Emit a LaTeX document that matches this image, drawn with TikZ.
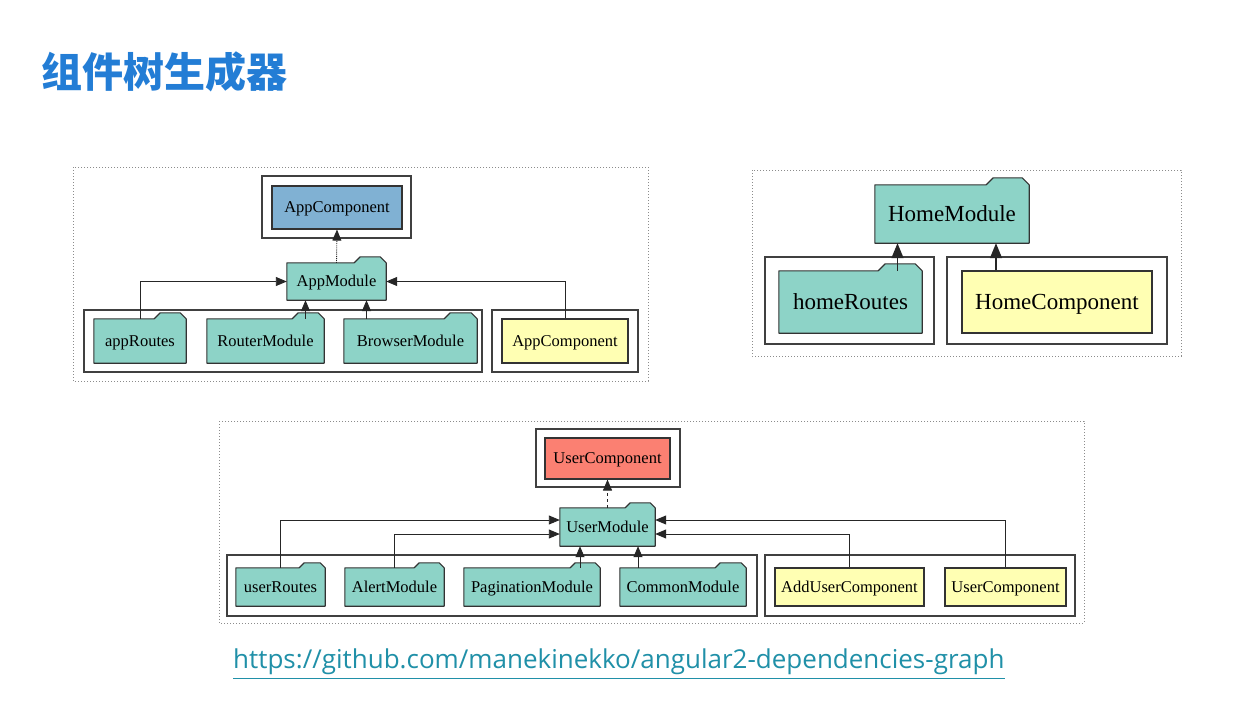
\documentclass[tikz,border=0pt]{standalone}
\usepackage{fontspec}
\setmainfont{Liberation Serif}
\newfontfamily\cjkfont{Noto Sans CJK SC}
\newfontfamily\linkfont{Open Sans}
\usepackage{tikz}
\usetikzlibrary{positioning, arrows.meta, calc, backgrounds}
\definecolor{modfill}{HTML}{8DD3C7}
\definecolor{compfill}{HTML}{FFFFB3}
\definecolor{rootblue}{HTML}{80B1D3}
\definecolor{rootred}{HTML}{FB8072}
\definecolor{titleblue}{HTML}{237DD5}
\definecolor{linkteal}{HTML}{2090A8}

\begin{document}
\begin{tikzpicture}[x=1pt, y=-1pt,
        dep/.style = {-{Triangle[length=11pt, width=9pt]}, line width=0.9pt, black!85},
        bigdep/.style = {-{Triangle[length=15pt, width=12pt]}, line width=1.3pt, black!85},
        comp/.style = {draw=black!80, line width=1.1pt, fill=compfill},
        mod/.style = {inner sep=0pt},
        cluster/.style = {draw=black!75, line width=1.5pt},
        frame/.style = {draw=black!45, dotted, line width=1pt},
        small/.style = {font=\fontsize{16.5}{19}\selectfont, text height=13.5pt, text depth=3pt},
        large/.style = {font=\fontsize{23}{27}\selectfont, text height=19pt, text depth=4pt}]

    \useasboundingbox (0,0) rectangle (1248,704);
    \begin{scope}[on background layer]
        \fill[white] (0,0) rectangle (1248,704);
    \end{scope}

    \node[anchor=west, text=titleblue, font=\cjkfont\bfseries\fontsize{41}{45}\selectfont] (title) at (38,72) {组件树生成器};

    % app module
    \draw[frame] (73,167) rectangle (648,381);
    \draw[cluster] (262,176) rectangle (411,238);
    \draw[cluster] (84,310) rectangle (482,372);
    \draw[cluster] (492,310) rectangle (638,372);

    \node[comp, fill=rootblue, small, minimum width=130pt, minimum height=43pt] (appComp) at (337,207.5) {AppComponent};
    \node[mod, small, minimum width=99pt, minimum height=37pt] (appModule) at (336.5,281.5) {AppModule};
    \node[mod, small, minimum width=92pt, minimum height=44pt] (appRoutes) at (140,341) {appRoutes};
    \node[mod, small, minimum width=117pt, minimum height=44pt] (routerMod) at (265.5,341) {RouterModule};
    \node[mod, small, minimum width=133pt, minimum height=44pt] (browserMod) at (410.5,341) {BrowserModule};
    \node[comp, small, minimum width=126pt, minimum height=44pt] (appCompDecl) at (565,341) {AppComponent};

    \draw[dep, densely dotted] (appModule.north) -- (appComp.south);
    \draw[dep] (appRoutes.north) |- (appModule.west);
    \draw[dep] ([xshift=40pt]routerMod.north) -- ([xshift=40pt]routerMod.north |- appModule.south);
    \draw[dep] ([xshift=-44pt]browserMod.north) -- ([xshift=-44pt]browserMod.north |- appModule.south);
    \draw[dep] (appCompDecl.north) |- (appModule.east);

    % home module
    \draw[frame] (752,170) rectangle (1181,356);
    \draw[cluster] (765,257) rectangle (934,344);
    \draw[cluster] (947,257) rectangle (1167,344);

    \node[mod, large, minimum width=154pt, minimum height=58pt] (homeMod) at (952,214) {HomeModule};
    \node[mod, large, minimum width=143pt, minimum height=62pt] (homeRoutes) at (850.5,302) {homeRoutes};
    \node[comp, large, minimum width=190pt, minimum height=62pt] (homeComp) at (1057,302) {HomeComponent};

    \draw[bigdep] ([xshift=47pt]homeRoutes.north) -- ([xshift=47pt]homeRoutes.north |- homeMod.south);
    \draw[bigdep] ([xshift=-61pt]homeComp.north) -- ([xshift=-61pt]homeComp.north |- homeMod.south);

    % user module
    \draw[frame] (219,421) rectangle (1084,623);
    \draw[cluster] (536,429) rectangle (680,487);
    \draw[cluster] (227,555) rectangle (757,616);
    \draw[cluster] (765,555) rectangle (1075,616);

    \node[comp, fill=rootred, small, minimum width=125pt, minimum height=41pt] (userComp) at (607.5,458.5) {UserComponent};
    \node[mod, small, minimum width=95pt, minimum height=38pt] (userModule) at (607.5,527) {UserModule};
    \node[mod, small, minimum width=89pt, minimum height=38pt] (userRoutes) at (280.5,587) {userRoutes};
    \node[mod, small, minimum width=99pt, minimum height=38pt] (alertMod) at (394.5,587) {AlertModule};
    \node[mod, small, minimum width=136pt, minimum height=38pt] (paginationMod) at (532,587) {PaginationModule};
    \node[mod, small, minimum width=126pt, minimum height=38pt] (commonMod) at (683,587) {CommonModule};
    \node[comp, small, minimum width=149pt, minimum height=38pt] (addUserComp) at (849.5,587) {AddUserComponent};
    \node[comp, small, minimum width=121pt, minimum height=38pt] (userCompDecl) at (1005.5,587) {UserComponent};

    \draw[dep, dashed] (userModule.north) -- (userComp.south);
    \draw[dep] (userRoutes.north) |- ([yshift=7pt]userModule.west);
    \draw[dep] (alertMod.north) |- ([yshift=-7pt]userModule.west);
    \draw[dep] ([xshift=48pt]paginationMod.north) -- ([xshift=48pt]paginationMod.north |- userModule.south);
    \draw[dep] ([xshift=-45pt]commonMod.north) -- ([xshift=-45pt]commonMod.north |- userModule.south);
    \draw[dep] (addUserComp.north) |- ([yshift=-7pt]userModule.east);
    \draw[dep] (userCompDecl.north) |- ([yshift=7pt]userModule.east);

    % folder outlines
    \begin{scope}[on background layer]
        \foreach \n/\tw/\th in {appModule/32/6, appRoutes/32/6, routerMod/32/6, browserMod/33/6,
                homeMod/43/7, homeRoutes/44/7,
                userModule/30/5, userRoutes/26/5, alertMod/30/5, paginationMod/30/5, commonMod/31/5}
            \draw[fill=modfill, draw=black!80, line width=1.1pt, line join=round]
                (\n.south west) -- (\n.north west) -- ($(\n.north east)+(-\tw,0)$)
                -- ++(\th,-\th) -- ($(\n.north east)+(-\th,-\th)$) -- (\n.north east)
                -- (\n.south east) -- cycle;
    \end{scope}

    \node[anchor=west, inner sep=0pt, text=linkteal, font=\linkfont\fontsize{26}{30}\selectfont] (link) at (233,662) {https://github.com/manekinekko/angular2-dependencies-graph};
    \draw[linkteal, line width=1.2pt] ([yshift=-3pt]link.south west) -- ([yshift=-3pt]link.south east);
\end{tikzpicture}
\end{document}
